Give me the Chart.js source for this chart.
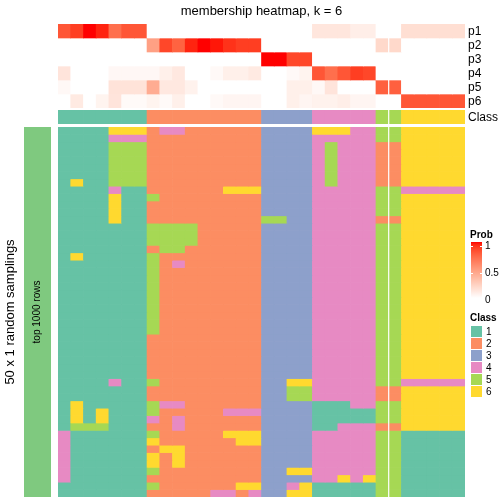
<!DOCTYPE html>
<html>
<head>
<meta charset="utf-8">
<script src="https://cdn.jsdelivr.net/npm/chart.js@4.4.1/dist/chart.umd.min.js"></script>
<style>
  html, body { margin: 0; padding: 0; background: #ffffff; }
  body { width: 504px; height: 504px; position: relative; overflow: hidden; }
  canvas { position: absolute; }
</style>
</head>
<body>
<canvas id="annot" width="504" height="108" style="left:0;top:0;width:504px;height:108px"></canvas>
<canvas id="classrow" width="504" height="15" style="left:0;top:109px;width:504px;height:15px"></canvas>
<canvas id="main" width="504" height="379" style="left:0;top:125px;width:504px;height:379px"></canvas>
<canvas id="leftbar" width="56" height="370" style="left:0;top:127px;width:56px;height:370px"></canvas>
<script>
// ---------------- DATA ----------------
const chartTitle = "membership heatmap, k = 6";
const classNames = ["1", "2", "3", "4", "5", "6"];
const classColors = ["#66C2A5", "#FC8D62", "#8DA0CB", "#E78AC3", "#A6D854", "#FFD92F"];
const probNames = ["p1", "p2", "p3", "p4", "p5", "p6"];
const probTicks = [1, 0.5, 0];
const rowTitle = "50 x 1 random samplings";
const rowGroupLabel = "top 1000 rows";
const rowGroupColor = "#7FC97F";

// class of each of the 32 columns
const columnClass = [1,1,1,1,1,1,1, 2,2,2,2,2,2,2,2,2, 3,3,3,3, 4,4,4,4,4, 5,5, 6,6,6,6,6];

// membership probabilities per column
const p1 = [0.82,0.90,1.00,0.96,0.72,0.82,0.82, 0,0,0,0,0,0,0,0,0, 0,0,0,0, 0.13,0.13,0.13,0.09,0.09, 0,0, 0.17,0.17,0.17,0.17,0.17];
const p2 = [0,0,0,0,0,0,0, 0.49,0.87,0.77,0.96,1.00,0.98,0.93,0.90,0.90, 0,0,0,0, 0,0,0,0,0, 0.20,0.20, 0,0,0,0,0];
const p3 = [0,0,0,0,0,0,0, 0,0,0,0,0,0,0,0,0, 1.00,1.00,0.87,0.87, 0,0,0,0,0, 0,0, 0,0,0,0,0];
const p4 = [0.14,0,0,0,0.04,0.04,0.04, 0.04,0.08,0.12,0,0,0.03,0.08,0.08,0.11, 0,0,0.03,0.06, 0.82,0.72,0.82,0.90,0.87, 0,0, 0,0,0,0,0];
const p5 = [0.035,0,0,0,0.145,0.145,0.145, 0.43,0.12,0.12,0.07,0,0,0,0,0, 0,0,0.08,0.08, 0.035,0.14,0,0,0, 0.78,0.78, 0,0,0,0,0];
const p6 = [0,0.11,0,0.06,0.14,0.025,0.025, 0.06,0.025,0.08,0,0,0.03,0.05,0.05,0.05, 0,0,0.08,0.05, 0.07,0.07,0.09,0.05,0.05, 0,0, 0.82,0.82,0.82,0.82,0.82];

// class assigned in each of the 50 random samplings (one string per sampling, one digit per column)
const samplingRows = [
  "1111666 244222222 3333 66644 55 66666",
  "1111444 222222222 3333 44444 55 66666",
  "1111555 222222222 3333 45444 22 66666",
  "1111555 222222222 3333 45444 22 66666",
  "1111555 222222222 3333 45444 22 66666",
  "1111555 222222222 3333 45444 22 66666",
  "1111555 222222222 3333 45444 22 66666",
  "1611555 222222222 3333 45444 22 66666",
  "1111411 222222666 3333 44444 55 44444",
  "1111611 522222222 3333 44444 55 66666",
  "1111611 222222222 3333 44444 55 66666",
  "1111611 222222222 3333 44444 55 66666",
  "1111611 222222222 5533 44444 22 66666",
  "1111111 555522222 3333 44444 55 66666",
  "1111111 555522222 3333 44444 55 66666",
  "1111111 555522222 3333 44444 55 66666",
  "1111111 255222222 3333 44444 55 66666",
  "1611111 522222222 3333 44444 55 66666",
  "1111111 524222222 3333 44444 55 66666",
  "1111111 522222222 3333 44444 55 66666",
  "1111111 522222222 3333 44444 55 66666",
  "1111111 522222222 3333 44444 55 66666",
  "1111111 522222222 3333 44444 55 66666",
  "1111111 522222222 3333 44444 55 66666",
  "1111111 522222222 3333 44444 55 66666",
  "1111111 522222222 3333 44444 55 66666",
  "1111111 522222222 3333 44444 55 66666",
  "1111111 522222222 3333 44444 55 66666",
  "1111111 222222222 3333 44444 55 66666",
  "1111111 222222222 3333 44444 55 66666",
  "1111111 222222222 3333 44444 55 66666",
  "1111111 222222222 3333 44444 55 66666",
  "1111111 222222222 3333 44444 55 66666",
  "1111111 222222222 3333 44444 55 66666",
  "1111411 522222222 3366 44444 55 44444",
  "1111111 222222222 3355 44444 22 66666",
  "1111111 222222222 3355 44444 22 66666",
  "1611111 544222222 3333 11144 55 66666",
  "1616111 522222444 3333 11111 55 66666",
  "1616111 424222222 3333 11111 55 66666",
  "1555111 224222222 3333 11444 22 66666",
  "4111111 522222666 3333 44444 55 11111",
  "4111111 622222266 3333 44444 55 11111",
  "4111111 266222222 3333 44444 55 11111",
  "4111111 626222222 3333 44444 55 11111",
  "4111111 626222222 3333 44444 55 11111",
  "4111111 522222222 3366 44444 55 11111",
  "4111111 222222222 3333 44646 55 11111",
  "1111111 522222266 3346 11111 55 11111",
  "1111111 222224424 3366 11111 55 11111"
];

// ---------------- COLOUR HELPERS ----------------
function s2l(c){ c/=255; return c<=0.04045 ? c/12.92 : Math.pow((c+0.055)/1.055, 2.4); }
function l2s(c){ c=Math.max(0,Math.min(1,c)); return Math.round(255*(c<=0.0031308 ? 12.92*c : 1.055*Math.pow(c,1/2.4)-0.055)); }
function rgb2lab(rgb){
  const r=s2l(rgb[0]), g=s2l(rgb[1]), b=s2l(rgb[2]);
  let X=(0.4124*r+0.3576*g+0.1805*b)/0.95047, Y=(0.2126*r+0.7152*g+0.0722*b), Z=(0.0193*r+0.1192*g+0.9505*b)/1.08883;
  const f=t=> t>0.008856 ? Math.cbrt(t) : 7.787*t+16/116;
  const fx=f(X), fy=f(Y), fz=f(Z);
  return [116*fy-16, 500*(fx-fy), 200*(fy-fz)];
}
function lab2rgb(lab){
  const fy=(lab[0]+16)/116, fx=fy+lab[1]/500, fz=fy-lab[2]/200;
  const fi=t=> t>0.206893 ? t*t*t : (t-16/116)/7.787;
  const X=fi(fx)*0.95047, Y=fi(fy), Z=fi(fz)*1.08883;
  const r= 3.2406*X-1.5372*Y-0.4986*Z;
  const g=-0.9689*X+1.8758*Y+0.0415*Z;
  const b= 0.0557*X-0.2040*Y+1.0570*Z;
  return [l2s(r), l2s(g), l2s(b)];
}
const labWhite = rgb2lab([255,255,255]), labRed = rgb2lab([255,0,0]);
function probColor(v){
  v=Math.max(0,Math.min(1,v));
  const lab=[0,1,2].map(i=>labWhite[i]+(labRed[i]-labWhite[i])*v);
  const c=lab2rgb(lab);
  return "rgb("+c[0]+","+c[1]+","+c[2]+")";
}

const FONT = "'Liberation Sans', Arial, Helvetica, sans-serif";
const nCols = columnClass.length;
const colLabels = columnClass.map((c,i)=>"c"+(i+1));
const PLOT = {left: 58, right: 39};

// white split line between the two class-5 columns
const splitLine = {
  id: "splitLine",
  afterDatasetsDraw(chart){
    const xs = chart.scales.x, a = chart.chartArea, ctx = chart.ctx;
    const bx = (xs.getPixelForValue(25) + xs.getPixelForValue(26)) / 2;
    ctx.save();
    ctx.strokeStyle = "#ffffff"; ctx.lineWidth = 1.2;
    ctx.beginPath(); ctx.moveTo(bx, a.top); ctx.lineTo(bx, a.bottom); ctx.stroke();
    ctx.restore();
  }
};

function heatmapChart(id, nRows, colorAt, padding, extraPlugins){
  const datasets = [];
  for (let r = 0; r < nRows; r++) {
    datasets.push({
      data: colLabels.map(()=>[r, r+1]),
      backgroundColor: colLabels.map((_,c)=>colorAt(r,c)),
      borderWidth: 0,
      grouped: false,
      barPercentage: 1,
      categoryPercentage: 1
    });
  }
  return new Chart(document.getElementById(id), {
    type: "bar",
    data: { labels: colLabels, datasets },
    options: {
      responsive: false, animation: false, devicePixelRatio: 1, events: [],
      layout: { padding },
      plugins: { legend: {display:false}, tooltip: {enabled:false}, title: {display:false} },
      scales: {
        x: { display: false, offset: true },
        y: { display: false, min: 0, max: nRows, reverse: true }
      }
    },
    plugins: [splitLine].concat(extraPlugins || [])
  });
}

// ---------- top annotation (p1..p6) with title ----------
const probRows = [p1, p2, p3, p4, p5, p6];
heatmapChart("annot", probRows.length, (r,c)=>probColor(probRows[r][c]),
  {left: PLOT.left, right: PLOT.right, top: 24, bottom: 0},
  [{
    id: "annotText",
    afterDraw(chart){
      const ctx = chart.ctx, a = chart.chartArea, ys = chart.scales.y;
      ctx.save();
      ctx.fillStyle = "#000";
      ctx.font = "13px " + FONT;
      ctx.textAlign = "center"; ctx.textBaseline = "middle";
      ctx.fillText(chartTitle, (a.left + a.right)/2, 11);
      ctx.font = "12px " + FONT;
      ctx.textAlign = "left";
      probNames.forEach((n,i)=>{
        ctx.fillText(n, a.right + 3, ys.getPixelForValue(i + 0.5) + 1);
      });
      ctx.restore();
    }
  }]
);

// ---------- class annotation row ----------
heatmapChart("classrow", 1, (r,c)=>classColors[columnClass[c]-1],
  {left: PLOT.left, right: PLOT.right, top: 1, bottom: 0},
  [{
    id: "classText",
    afterDraw(chart){
      const ctx = chart.ctx, a = chart.chartArea;
      ctx.save();
      ctx.fillStyle = "#000"; ctx.font = "12px " + FONT;
      ctx.textAlign = "left"; ctx.textBaseline = "middle";
      ctx.fillText("Class", a.right + 3, (a.top + a.bottom)/2 + 1);
      ctx.restore();
    }
  }]
);

// ---------- main heatmap + legends ----------
const samplingMatrix = samplingRows.map(s => s.replace(/\s+/g, "").split("").map(Number));
heatmapChart("main", samplingMatrix.length, (r,c)=>classColors[samplingMatrix[r][c]-1],
  {left: PLOT.left, right: PLOT.right, top: 2, bottom: 7},
  [{
    id: "legends",
    afterDraw(chart){
      const ctx = chart.ctx;
      const off = 125; // canvas top offset in page
      ctx.save();
      ctx.fillStyle = "#000";
      // Prob legend
      ctx.font = "bold 10px " + FONT; ctx.textAlign = "left"; ctx.textBaseline = "middle";
      ctx.fillText("Prob", 470, 235 - off);
      const gx = 471, gw = 11, gTop = 242 - off, gBot = 298 - off;
      const grad = ctx.createLinearGradient(0, gTop, 0, gBot);
      for (let i = 0; i <= 20; i++) grad.addColorStop(i/20, probColor(1 - i/20));
      ctx.fillStyle = grad; ctx.fillRect(gx, gTop, gw, gBot - gTop);
      ctx.strokeStyle = "#ffffff"; ctx.lineWidth = 1;
      const tickY = v => (246 - off) + (1 - v) * 54;
      probTicks.forEach(v=>{
        const y = Math.round(tickY(v)) + 0.5;
        ctx.beginPath(); ctx.moveTo(gx, y); ctx.lineTo(gx+2, y); ctx.moveTo(gx+gw-2, y); ctx.lineTo(gx+gw, y); ctx.stroke();
      });
      ctx.fillStyle = "#000"; ctx.font = "10px " + FONT;
      probTicks.forEach(v=>{ ctx.fillText(String(v), 485, tickY(v)); });
      // Class legend
      ctx.font = "bold 10px " + FONT;
      ctx.fillText("Class", 470, 318 - off);
      ctx.font = "10px " + FONT;
      classNames.forEach((n,i)=>{
        const y = 326 - off + i*12;
        ctx.fillStyle = classColors[i];
        ctx.fillRect(471, y, 11, 11);
        ctx.fillStyle = "#000";
        ctx.fillText(n, 486, y + 6);
      });
      ctx.restore();
    }
  }]
);

// ---------- left row-group bar ----------
new Chart(document.getElementById("leftbar"), {
  type: "bar",
  data: { labels: [rowGroupLabel], datasets: [{ data: [[0, 1]], backgroundColor: [rowGroupColor], borderWidth: 0, barPercentage: 1, categoryPercentage: 1 }] },
  options: {
    responsive: false, animation: false, devicePixelRatio: 1, events: [],
    layout: { padding: {left: 24, right: 5, top: 0, bottom: 0} },
    plugins: { legend: {display:false}, tooltip: {enabled:false} },
    scales: { x: {display:false, offset:true}, y: {display:false, min:0, max:1} }
  },
  plugins: [{
    id: "leftText",
    afterDraw(chart){
      const ctx = chart.ctx, a = chart.chartArea;
      const cy = (a.top + a.bottom)/2;
      ctx.save();
      ctx.fillStyle = "#000"; ctx.textAlign = "center"; ctx.textBaseline = "middle";
      ctx.translate((a.left + a.right)/2, cy); ctx.rotate(-Math.PI/2);
      ctx.font = "10px " + FONT; ctx.fillText(rowGroupLabel, 0, 0);
      ctx.restore();
      ctx.save();
      ctx.fillStyle = "#000"; ctx.textAlign = "center"; ctx.textBaseline = "middle";
      ctx.translate(10, cy); ctx.rotate(-Math.PI/2);
      ctx.font = "13px " + FONT; ctx.fillText(rowTitle, 0, 0);
      ctx.restore();
    }
  }]
});
</script>
</body>
</html>
